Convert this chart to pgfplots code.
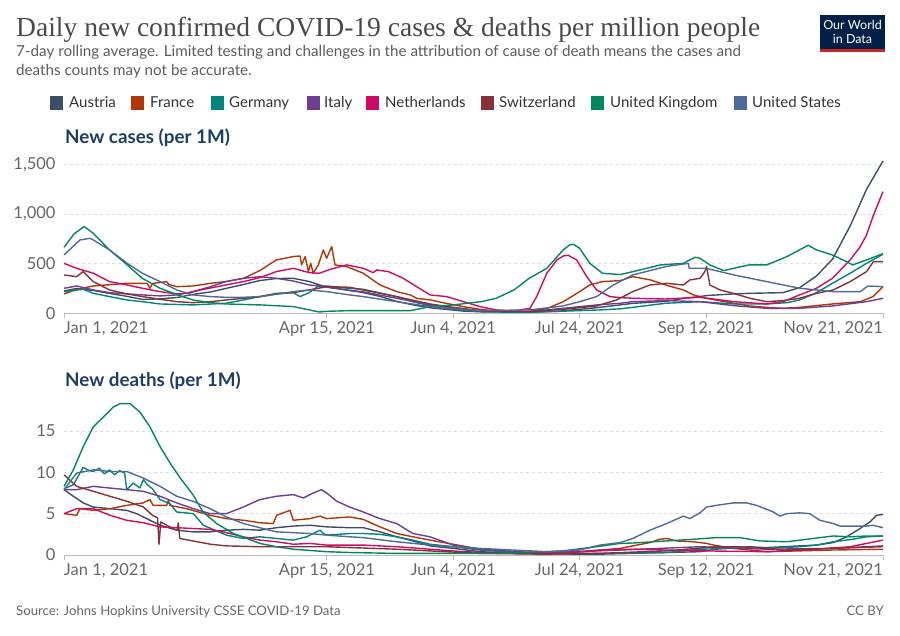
\documentclass[border=0pt]{standalone}
\usepackage{graphicx}
\usepackage{pgfplots}
\pgfplotsset{compat=1.18}
\usepackage{fontspec}
\setmainfont{Lato}
\newfontfamily\titlefont{Liberation Serif}
\definecolor{cAT}{HTML}{3C4E66}
\definecolor{cFR}{HTML}{B13507}
\definecolor{cDE}{HTML}{00847E}
\definecolor{cIT}{HTML}{6D3E91}
\definecolor{cNL}{HTML}{CF0A66}
\definecolor{cCH}{HTML}{883039}
\definecolor{cUK}{HTML}{00875E}
\definecolor{cUS}{HTML}{4C6A9C}
\definecolor{titlegray}{HTML}{4A4A4A}
\definecolor{subgray}{HTML}{5B5B5B}
\definecolor{labelgray}{HTML}{666666}
\definecolor{axisgray}{HTML}{BBBBBB}
\definecolor{gridgray}{HTML}{DDDDDD}
\definecolor{paneltitle}{HTML}{1D3D63}
\definecolor{owidnavy}{HTML}{002147}
\definecolor{owidred}{HTML}{CE261E}
\pgfplotsset{owid/.style={
  scale only axis, width=819pt, height=153pt, xmin=0, xmax=324, ymin=0,
  enlargelimits=false,
  axis x line*=bottom, axis y line*=left,
  y axis line style={draw=none},
  x axis line style={draw=axisgray, line width=0.9pt, -},
  xtick={0,104,154,204,254,324},
  xticklabels={{\makebox[0pt][l]{Jan 1, 2021}},{Apr 15, 2021},{Jun 4, 2021},{Jul 24, 2021},{Sep 12, 2021},{\makebox[0pt][r]{Nov 21, 2021}}},
  tick align=outside, major tick length=5pt,
  xtick style={draw=axisgray, line width=0.9pt},
  ytick style={draw=none},
  ymajorgrids, grid style={draw=gridgray, dash pattern=on 3pt off 3pt, line width=0.8pt},
  tick label style={font=\fontsize{16.5}{19}\selectfont, text=labelgray},
  /pgf/number format/assume math mode=true,
  /pgf/number format/1000 sep={,},
  every axis plot/.append style={line width=1.4pt, line join=round, mark=none},
  clip=false,
}}
\begin{document}
\begin{tikzpicture}
\path[use as bounding box] (0pt,0pt) rectangle (900pt,635pt);
% title block
\node[anchor=base west, inner sep=0] at (16pt,598pt) {\resizebox{744pt}{!}{\titlefont\fontsize{25}{30}\selectfont\color{titlegray}Daily new confirmed COVID-19 cases \& deaths per million people}};
\node[anchor=base west, inner sep=0, text=subgray] at (16pt,578pt) {\fontsize{15.2}{18}\selectfont 7-day rolling average. Limited testing and challenges in the attribution of cause of death means the cases and};
\node[anchor=base west, inner sep=0, text=subgray] at (16pt,559pt) {\fontsize{15.2}{18}\selectfont deaths counts may not be accurate.};
% logo
\fill[owidnavy] (820pt,586pt) rectangle (885pt,620pt);
\fill[owidred] (820pt,582.5pt) rectangle (885pt,586pt);
\node[text=white, inner sep=0] at (852.5pt,610pt) {\fontsize{12.5}{14}\selectfont Our World};
\node[text=white, inner sep=0] at (852.5pt,596pt) {\fontsize{12.5}{14}\selectfont in Data};
% legend
\fill[cAT] (50pt,525pt) rectangle (63pt,539pt); \node[anchor=base west,inner sep=0,text=black!80] at (69pt,527pt) {\fontsize{15}{18}\selectfont Austria};
\fill[cFR] (131pt,525pt) rectangle (144pt,539pt); \node[anchor=base west,inner sep=0,text=black!80] at (150pt,527pt) {\fontsize{15}{18}\selectfont France};
\fill[cDE] (211pt,525pt) rectangle (224pt,539pt); \node[anchor=base west,inner sep=0,text=black!80] at (229pt,527pt) {\fontsize{15}{18}\selectfont Germany};
\fill[cIT] (307pt,525pt) rectangle (320pt,539pt); \node[anchor=base west,inner sep=0,text=black!80] at (324pt,527pt) {\fontsize{15}{18}\selectfont Italy};
\fill[cNL] (366pt,525pt) rectangle (379pt,539pt); \node[anchor=base west,inner sep=0,text=black!80] at (385pt,527pt) {\fontsize{15}{18}\selectfont Netherlands};
\fill[cCH] (481pt,525pt) rectangle (494pt,539pt); \node[anchor=base west,inner sep=0,text=black!80] at (499pt,527pt) {\fontsize{15}{18}\selectfont Switzerland};
\fill[cUK] (591pt,525pt) rectangle (604pt,539pt); \node[anchor=base west,inner sep=0,text=black!80] at (610pt,527pt) {\fontsize{15}{18}\selectfont United Kingdom};
\fill[cUS] (734pt,525pt) rectangle (747pt,539pt); \node[anchor=base west,inner sep=0,text=black!80] at (752pt,527pt) {\fontsize{15}{18}\selectfont United States};
% panel titles
\node[anchor=base west,inner sep=0,text=paneltitle] at (65pt,491.5pt) {\fontsize{18.8}{22}\selectfont\bfseries New cases (per 1M)};
\node[anchor=base west,inner sep=0,text=paneltitle] at (65pt,248.5pt) {\fontsize{18.8}{22}\selectfont\bfseries New deaths (per 1M)};
% footer
\node[anchor=base west,inner sep=0,text=labelgray] at (16pt,20pt) {\fontsize{13.2}{15}\selectfont Source: Johns Hopkins University CSSE COVID-19 Data};
\node[anchor=base east,inner sep=0,text=labelgray] at (884pt,20pt) {\fontsize{13.2}{15}\selectfont CC BY};

% ===== cases =====
\begin{axis}[owid, at={(64pt,321.7pt)}, anchor=south west, ymax=1540, ytick={0,500,1000,1500}]
% Austria
\addplot[cAT] coordinates {(0,225)(5,250)(11.6,230)(18,200)(25,170)(31,140)(38,145)(45,160)(51,190)(58,215)(64,250)(71,290)(77.5,330)(84,350)(90.7,352)(97,320)(104,262)(113,230)(118,210)(125,170)(131.6,120)(139,80)(145,55)(151,40)(158,22)(165,15)(181,10)(195,20)(204,40)(212,60)(225,100)(238,120)(245,150)(255,180)(264.8,195)(271.4,201)(284.4,208)(291,258)(297.7,376)(304,544)(311,879)(317.5,1248)(324,1534)};
% France
\addplot[cFR] coordinates {(0,195)(5,240)(11.6,275)(25,302)(33,300)(34,252)(35,300)(40.6,319)(41.5,290)(44.6,268)(51,275)(58,302)(64,319)(71,352)(77.5,430)(84,537)(90.7,571)(93.4,577)(94,487)(95.4,571)(96.7,420)(97.6,503)(98.6,403)(100.6,487)(102.6,638)(103.9,554)(105.9,671)(107.2,487)(111.8,470)(118.4,403)(125,285)(131.6,218)(137,185)(139.5,151)(145,134)(151,101)(158,67)(164.6,40)(171,23)(184,20)(191,47)(197.5,117)(204,218)(208,285)(213,319)(220,329)(225,369)(232,336)(238,285)(245,235)(249,185)(254,151)(265,101)(271,74)(278,60)(284.5,50)(291,60)(304,94)(315,117)(320,168)(324,268)};
% Germany
\addplot[cDE] coordinates {(0,218)(7.6,242)(11.6,201)(18,168)(25,134)(31,117)(38,94)(51,84)(64,101)(71,134)(77.5,168)(84,201)(90.7,208)(93.4,168)(97,208)(100.3,268)(104,275)(113,250)(118.4,242)(131.6,168)(138,117)(145,74)(154,40)(165,17)(184,10)(204,27)(212,34)(220,45)(225,60)(238,101)(251.6,117)(265,94)(278,94)(286,107)(291,134)(297.7,208)(304,302)(311,403)(317.5,503)(324,594)};
% Italy
\addplot[cIT] coordinates {(0,252)(5,275)(11.6,235)(18,208)(25,195)(31,185)(38,175)(44.6,185)(51,218)(58,268)(64,319)(71,352)(77.5,369)(84,352)(90.7,325)(97,285)(104,268)(113,230)(118,218)(131.6,151)(145,84)(154,50)(165,23)(184,17)(197.5,50)(210.7,84)(220,101)(225,117)(238,128)(251.6,117)(265,77)(278,50)(291,50)(304,74)(317.5,117)(324,151)};
% Netherlands
\addplot[cNL] coordinates {(0,503)(5,453)(11.6,403)(18,319)(25,285)(31,252)(38,218)(44.6,195)(48.5,201)(54,235)(64,285)(71,319)(77.5,359)(84,420)(90.7,453)(97,409)(101,403)(105,440)(111.8,487)(118.4,453)(122.3,409)(123.7,436)(128.3,420)(134.2,352)(139.5,268)(144.8,185)(151.4,168)(158,117)(164.6,67)(171,34)(177.7,23)(184.3,50)(187,168)(191,403)(195,537)(197.5,577)(199.5,584)(202.8,537)(206.8,369)(210.7,235)(216,168)(220,158)(225,151)(238,144)(251.6,161)(265,117)(278,94)(284.5,117)(291,185)(297.7,252)(304,352)(311,537)(315,671)(317.5,789)(320,973)(324,1225)};
% Switzerland
\addplot[cCH] coordinates {(0,386)(5,369)(7.6,420)(9.6,369)(11.6,319)(18,235)(25,195)(31,168)(38,141)(44.6,117)(51,107)(58,117)(64,134)(71,151)(77.5,168)(84,195)(90.7,208)(97,235)(104,268)(113,262)(118.4,235)(131.6,168)(144.8,94)(154,60)(164.6,27)(184,17)(197.5,40)(210.7,74)(218.6,134)(225,218)(231.8,285)(238.4,302)(245,285)(247.6,336)(251.6,352)(253.5,420)(254.2,470)(255.5,285)(259.5,235)(264.8,201)(271.4,151)(278,117)(284.5,128)(291,151)(297.7,201)(304.3,235)(311,319)(317.5,420)(320.2,520)(324,520)};
% United Kingdom
\addplot[cUK] coordinates {(0,664)(4,800)(8,873)(11.6,805)(18,638)(25,487)(31,352)(38,252)(45,185)(51,134)(58,107)(64,94)(78,84)(91,67)(97,34)(101,13)(104,20)(113,27)(125,27)(137,27)(145,67)(154,84)(165,117)(171,151)(178,235)(184,352)(191,453)(197.5,638)(200,688)(201.5,695)(204,654)(208,503)(213,403)(220,390)(225,419)(236,487)(245,503)(249.6,564)(251.6,554)(255.5,487)(261,430)(265,453)(271,487)(278,487)(286,571)(291,638)(294.4,685)(297.7,638)(304,587)(309.6,520)(312,487)(317.5,537)(324,600)};
% United States
\addplot[cUS] coordinates {(0,587)(6.3,738)(10.3,755)(11.6,738)(18,638)(25,503)(31,403)(38,319)(44.6,235)(51,185)(58,168)(64,161)(71,161)(77.5,168)(84,191)(90.7,218)(97,235)(104,218)(113,185)(118.4,168)(131.6,117)(144.8,67)(154,47)(164.6,27)(184.3,34)(197.5,74)(204,117)(210.7,168)(217,280)(225,386)(238,470)(247,503)(247.3,453)(254,453)(265,386)(278,319)(291,252)(304,218)(315,218)(318,275)(324,268)};
\end{axis}

% ===== deaths =====
\begin{axis}[owid, at={(64pt,80pt)}, anchor=south west, ymax=18.5, ytick={0,5,10,15}]
% Austria
\addplot[cAT] coordinates {(0,7.9)(3.7,7.1)(7.6,6.3)(11.6,5.8)(18.2,5.6)(24.8,5.4)(28.7,5.0)(31.4,4.6)(38,3.6)(44.6,3.0)(51.2,2.8)(57.8,2.8)(64.3,3.0)(70.9,3.1)(77.5,3.0)(84.1,3.3)(90.7,3.5)(97.3,3.6)(104,3.4)(113,3.3)(118.4,3.3)(125,2.8)(131.6,2.2)(138,1.7)(144.8,1.1)(154,0.8)(164.6,0.4)(177.7,0.2)(204,0.1)(212,0.1)(251.6,0.4)(264.8,1.0)(278,0.9)(291,1.1)(297.7,1.2)(304.3,1.5)(309.6,2.2)(314.9,3.2)(318.8,4.0)(321.5,4.8)(324,4.9)};
% France
\addplot[cFR] coordinates {(0,5.0)(5,4.8)(6.3,5.6)(11.6,5.4)(18.2,5.6)(24.8,6.0)(31.4,6.3)(34,6.7)(35.3,6.0)(40.6,6.0)(41.3,6.6)(41.9,6.0)(48.5,5.6)(57.8,4.8)(64.3,4.4)(70.9,4.2)(77.5,3.9)(82.8,3.8)(84.1,4.8)(89.4,5.4)(90.7,4.2)(97.3,4.4)(101.3,4.7)(103.9,4.4)(113,4.6)(118.4,4.3)(125,3.4)(131.6,2.6)(138,2.2)(144.8,1.8)(154,1.3)(164.6,0.7)(177.7,0.4)(191,0.3)(204,0.4)(220,0.8)(225,1.1)(231.8,1.5)(235.7,1.9)(238.4,2.0)(242.3,1.7)(249,1.6)(254.2,1.4)(257,1.2)(264.8,0.8)(278,0.4)(291,0.5)(304,0.6)(324,0.7)};
% Germany
\addplot[cDE] coordinates {(0,8.0)(3.7,8.5)(7.6,10.6)(10,10.2)(11.6,10.1)(14,10.5)(16,9.8)(18,10.3)(20,9.7)(22,10.2)(24,9.9)(24.8,7.9)(27.4,8.7)(30,8.1)(31.4,9.1)(33,8.5)(35,8.0)(38,6.7)(41.9,6.2)(44.6,5.2)(51.2,5.0)(55.1,3.6)(64.3,2.4)(70.9,2.0)(77.5,2.2)(84,2.0)(90.7,1.8)(96,2.2)(101.3,3.0)(102.6,2.6)(104,2.4)(113,2.6)(118.4,2.6)(125,2.5)(131.6,2.2)(138,1.8)(144.8,1.3)(154,1.0)(164.6,0.6)(177.7,0.3)(197.5,0.2)(212,0.2)(238.4,0.3)(251.6,0.7)(264.8,0.8)(278,0.8)(291,1.0)(297.7,1.2)(304.3,1.6)(312,1.9)(317.5,2.2)(324,2.3)};
% Italy
\addplot[cIT] coordinates {(0,7.9)(5,7.9)(11.6,8.3)(18,8.1)(24.8,7.9)(31.4,7.7)(38,7.1)(44.6,6.3)(51.2,5.6)(57.8,5.0)(64.3,5.0)(70.9,5.8)(77.5,6.7)(84,7.1)(90.7,7.3)(94.7,6.9)(98.6,7.5)(101.9,7.9)(103.9,7.5)(107.9,6.5)(113,5.8)(118.4,5.2)(125,4.4)(131.6,3.8)(138,2.6)(144.8,2.2)(154,1.2)(164.6,0.7)(184.3,0.3)(204,0.4)(220,0.6)(251.6,1.0)(278,0.7)(304,0.8)(324,1.0)};
% Netherlands
\addplot[cNL] coordinates {(0,5.0)(5,5.6)(11.6,5.6)(18.2,4.8)(24.8,4.2)(31.4,3.9)(38,3.4)(44.6,3.3)(51.2,3.2)(57.8,3.1)(64.3,2.7)(70.9,2.2)(77.5,1.8)(84.1,1.6)(90.7,1.3)(97.3,1.4)(103.9,1.2)(113,1.2)(118.4,1.2)(131.6,1.0)(144.8,0.7)(158,0.4)(177.7,0.2)(197.5,0.2)(212,0.6)(225,0.7)(238.4,0.6)(251.6,0.5)(278,0.4)(297.7,0.7)(311,1.0)(317.5,1.4)(324,1.8)};
% Switzerland
\addplot[cCH] coordinates {(0,9.7)(5,8.3)(11.6,7.7)(18.2,7.1)(24.8,6.5)(31.4,5.8)(35,4.8)(37,4.5)(37.6,1.3)(38.3,4.0)(43,3.2)(44.8,3.0)(45.2,3.9)(45.8,2.0)(51,1.7)(58,1.3)(64.3,1.1)(77.5,1.0)(90.7,1.0)(104,1.0)(113,0.9)(131.6,0.7)(151,0.4)(164.6,0.2)(190,0.1)(212,0.2)(238.4,0.5)(258,1.0)(271.4,1.0)(284.5,0.6)(304.3,0.8)(324,1.1)};
% United Kingdom
\addplot[cUK] coordinates {(0,8.3)(3.7,10.3)(7.6,13.1)(11.6,15.5)(15.6,16.7)(19.5,17.9)(22.2,18.3)(26.1,18.3)(30,17.3)(34,15.5)(38,13.1)(42,11.1)(46,9.3)(51,7.3)(55,5.2)(60.4,3.8)(67,2.6)(72.3,2.0)(77.5,1.4)(84,1.0)(90.7,0.7)(104,0.4)(113,0.3)(130,0.2)(150,0.2)(171,0.2)(184,0.3)(197.5,0.5)(210.7,1.0)(220,1.4)(225,1.45)(238.4,1.7)(249,1.9)(258,2.1)(267.4,2.1)(275.3,1.7)(286,1.6)(293.8,1.9)(304.3,2.3)(311,2.2)(317.5,2.3)(324,2.3)};
% United States
\addplot[cUS] coordinates {(0,7.9)(5,9.9)(11.6,10.3)(18,10.1)(24.8,10.1)(31.4,9.3)(38,8.3)(44.6,7.1)(51,6.5)(57.8,5.6)(64.3,4.6)(71,3.8)(77.5,3.3)(84,2.8)(90.7,2.7)(97,2.6)(104,2.4)(113,2.2)(118.4,2.1)(131.6,1.6)(144.8,1.2)(154,1.0)(164.6,0.8)(177.7,0.6)(191,0.4)(204,0.6)(212,1.2)(220,1.5)(225,2.0)(231.8,3.0)(238.4,3.8)(245,4.7)(247.6,4.4)(251.6,5.1)(254.2,5.8)(258,6.0)(264.8,6.3)(270,6.3)(274,6.0)(280.6,5.2)(283.2,4.7)(286,5.0)(291,5.1)(295,5.0)(299,4.2)(304.3,3.8)(307,3.5)(312,3.5)(317.5,3.5)(320,3.6)(324,3.3)};
\end{axis}
\end{tikzpicture}
\end{document}
